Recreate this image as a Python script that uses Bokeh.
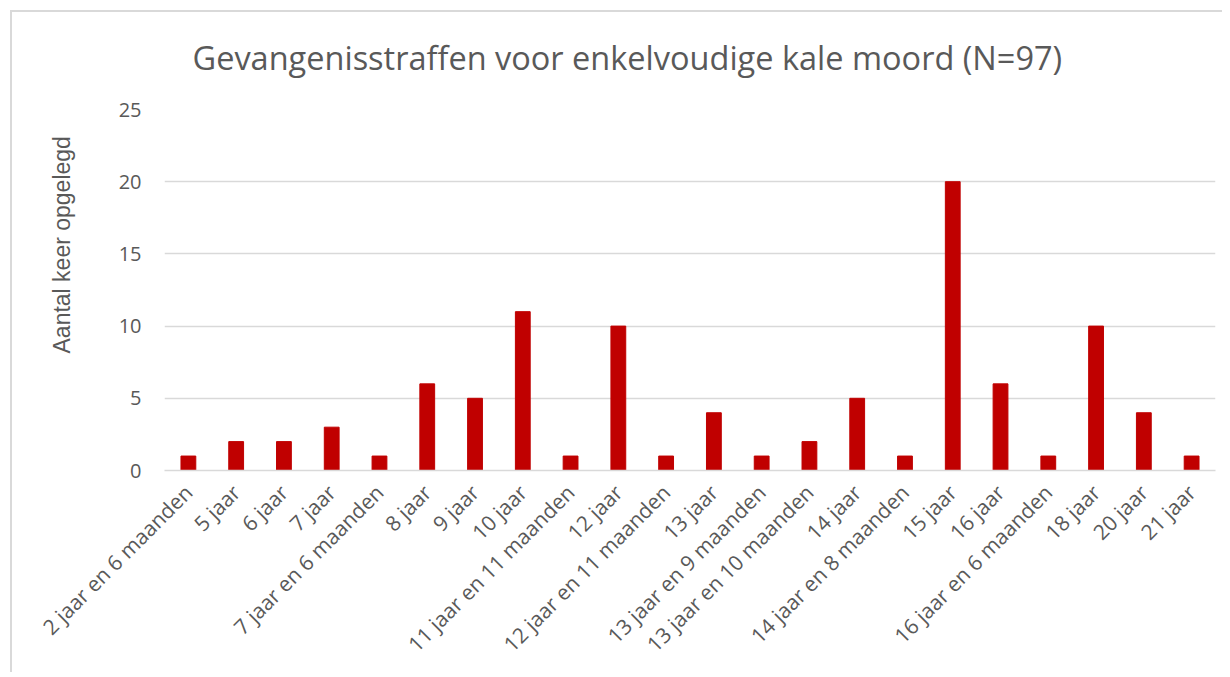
import math
from bokeh.plotting import figure
from bokeh.models import Range1d, FixedTicker, Title
from bokeh.embed import file_html
from bokeh.resources import INLINE

categories = [
    "2 jaar en 6 maanden", "5 jaar", "6 jaar", "7 jaar", "7 jaar en 6 maanden",
    "8 jaar", "9 jaar", "10 jaar", "11 jaar en 11 maanden", "12 jaar",
    "12 jaar en 11 maanden", "13 jaar", "13 jaar en 9 maanden", "13 jaar en 10 maanden",
    "14 jaar", "14 jaar en 8 maanden", "15 jaar", "16 jaar", "16 jaar en 6 maanden",
    "18 jaar", "20 jaar", "21 jaar",
]
counts = [1, 2, 2, 3, 1, 6, 5, 11, 1, 10, 1, 4, 1, 2, 5, 1, 20, 6, 1, 10, 4, 1]
y_ticks = [0, 5, 10, 15, 20, 25]

title_text = "Gevangenisstraffen voor enkelvoudige kale moord (N=97)"
y_label = "Aantal keer opgelegd"

TEXT = "#595959"
GRID = "#d9d9d9"
BAR = "#c00000"

p = figure(
    x_range=categories, y_range=Range1d(0, 25),
    width=1222, height=672,
    output_backend="svg", toolbar_location=None,
    min_border_left=164, min_border_right=7, min_border_top=109, min_border_bottom=202,
)
p.styles = {
    "background": (
        "linear-gradient(#d9d9d9, #d9d9d9) left 10px top 10px / 100% 2px no-repeat, "
        "linear-gradient(#d9d9d9, #d9d9d9) left 10px top 10px / 2px 100% no-repeat, "
        "white"
    )
}
p.outline_line_color = None
p.background_fill_color = "white"
p.border_fill_color = None

p.vbar(x=categories, top=counts, width=0.31, fill_color=BAR, line_color=BAR, line_width=1)

p.title.text = title_text
p.title.text_font = "Open Sans"
p.title.text_font_size = "32.5px"
p.title.text_font_style = "normal"
p.title.text_color = TEXT
p.title.align = "left"
p.title.offset = 28
p.title.standoff = 60

p.x_range.range_padding = 0.0

p.yaxis.ticker = FixedTicker(ticks=y_ticks)
p.yaxis.axis_line_color = None
p.yaxis.major_tick_line_color = None
p.yaxis.minor_tick_line_color = None
p.yaxis.major_tick_out = 0
p.yaxis.major_label_standoff = 23
p.yaxis.major_label_text_font = "Open Sans"
p.yaxis.major_label_text_font_size = "20px"
p.yaxis.major_label_text_color = TEXT

ytitle = Title(
    text=y_label, align="left", offset=117, standoff=82,
    text_font="Liberation Sans", text_font_size="23px", text_font_style="normal",
    text_color=TEXT,
)
p.add_layout(ytitle, "left")

p.xaxis.axis_line_color = GRID
p.xaxis.axis_line_width = 1.5
p.xaxis.major_tick_line_color = None
p.xaxis.minor_tick_line_color = None
p.xaxis.major_tick_out = 0
p.xaxis.major_label_orientation = math.pi / 4
p.xaxis.major_label_standoff = 18
p.xaxis.major_label_text_font = "Open Sans"
p.xaxis.major_label_text_font_size = "21px"
p.xaxis.major_label_text_color = TEXT

p.xgrid.grid_line_color = None
p.ygrid.grid_line_color = GRID
p.ygrid.grid_line_width = 1.5

open("out.html", "w").write(file_html(p, INLINE))
